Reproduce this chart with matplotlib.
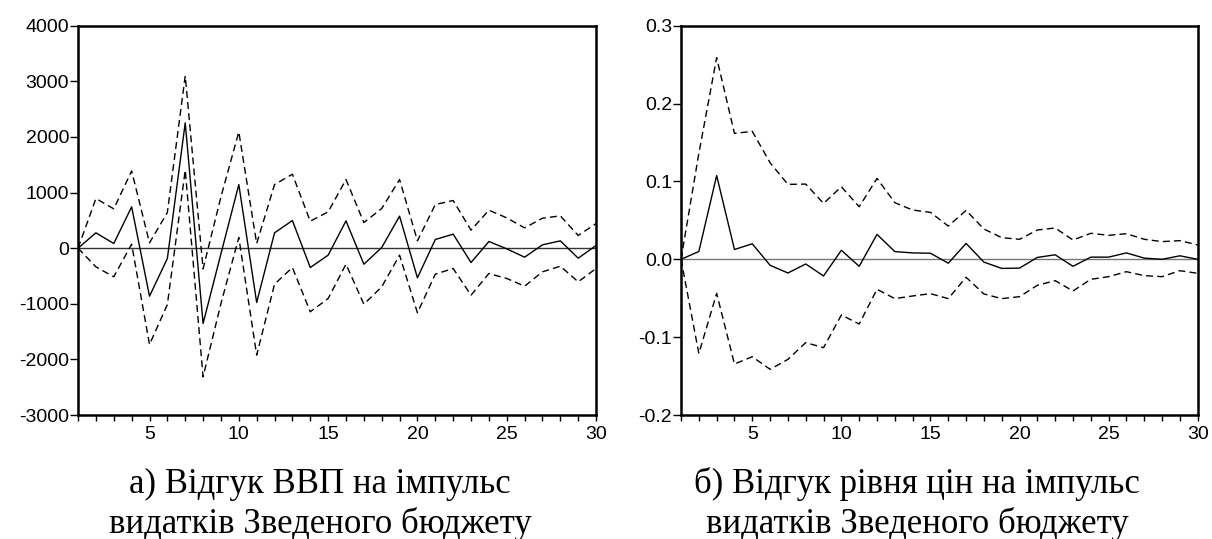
import matplotlib
matplotlib.use("Agg")
import matplotlib.pyplot as plt
from matplotlib.ticker import MultipleLocator

periods = list(range(1, 31))

# a) GDP response
gdp_resp = [0, 276, 84, 743, -863, -186, 2253, -1354, -100, 1144,
            -977, 276, 497, -348, -126, 491, -288, 12, 575, -533,
            156, 252, -258, 120, -12, -162, 60, 132, -180, 48]
gdp_upper = [0, 893, 707, 1390, 96, 641, 3098, -371, 923, 2091,
             84, 1144, 1330, 485, 653, 1234, 461, 713, 1234, 132,
             785, 857, 324, 683, 545, 365, 539, 581, 228, 443]
gdp_lower = [0, -336, -515, 72, -1732, -1013, 1402, -2313, -995, 192,
             -1923, -647, -348, -1144, -905, -288, -1007, -695, -126, -1162,
             -467, -365, -845, -455, -545, -683, -425, -324, -605, -365]

# b) price level response
price_resp = [0, 0.010, 0.1075, 0.0126, 0.0199, -0.0077, -0.0176, -0.006, -0.0214, 0.0116,
              -0.009, 0.032, 0.0099, 0.0082, 0.0078, -0.005, 0.0204, -0.0036, -0.0117, -0.0113,
              0.0024, 0.0058, -0.009, 0.0028, 0.0028, 0.0082, 0.0015, 0.0, 0.0045, 0.0]
price_upper = [0, 0.136, 0.259, 0.1617, 0.1643, 0.124, 0.0962, 0.0966, 0.0718, 0.0932,
               0.0675, 0.1039, 0.0727, 0.0633, 0.0603, 0.0427, 0.0628, 0.0389, 0.0278, 0.0257,
               0.0376, 0.0402, 0.0248, 0.0334, 0.0308, 0.0329, 0.0257, 0.0227, 0.024, 0.0184]
price_lower = [0, -0.121, -0.0438, -0.1345, -0.1251, -0.1413, -0.1285, -0.107, -0.1135, -0.0715,
               -0.0831, -0.0385, -0.0505, -0.0471, -0.0441, -0.0505, -0.0231, -0.0445, -0.0505, -0.048,
               -0.0334, -0.0274, -0.0407, -0.0257, -0.0223, -0.0159, -0.021, -0.0223, -0.0146, -0.018]

caption_a = ["а) Відгук ВВП на імпульс", "видатків Зведеного бюджету"]
caption_b = ["б) Відгук рівня цін на імпульс", "видатків Зведеного бюджету"]

plt.rcParams["font.family"] = ["Liberation Sans", "DejaVu Sans"]

fig = plt.figure(figsize=(12.12, 5.39), dpi=100)
ax_a = fig.add_axes([0.0644, 0.230, 0.4274, 0.7223])
ax_b = fig.add_axes([0.5619, 0.230, 0.4263, 0.7223])


def draw_panel(ax, resp, upper, lower, ylim, ystep, yfmt, zero_color):
    ax.axhline(0, color=zero_color, linewidth=1.0, zorder=1)
    ax.plot(periods, resp, color="black", linewidth=1.0, zorder=3)
    ax.plot(periods, upper, color="black", linewidth=1.0, linestyle=(0, (5, 3)), zorder=3)
    ax.plot(periods, lower, color="black", linewidth=1.0, linestyle=(0, (5, 3)), zorder=3)
    ax.set_xlim(1, 30)
    ax.set_ylim(*ylim)
    ax.xaxis.set_major_locator(MultipleLocator(5))
    ax.xaxis.set_minor_locator(MultipleLocator(1))
    ax.yaxis.set_major_locator(MultipleLocator(ystep))
    ax.yaxis.set_major_formatter(plt.FuncFormatter(yfmt))
    ax.tick_params(axis="x", which="both", direction="out", length=4.5, width=1.0,
                   labelsize=14, pad=3.5, color="black")
    ax.tick_params(axis="y", which="major", direction="out", length=6, width=1.0,
                   labelsize=14, pad=0.5, color="black")
    for side in ax.spines.values():
        side.set_linewidth(1.8)
        side.set_color("black")


draw_panel(ax_a, gdp_resp, gdp_upper, gdp_lower, (-3000, 4000), 1000,
           lambda v, _: f"{v:.0f}", "#333333")
draw_panel(ax_b, price_resp, price_upper, price_lower, (-0.2, 0.3), 0.1,
           lambda v, _: f"{v:.1f}", "#777777")

for x, lines in zip([320 / 1212, 917 / 1212], [caption_a, caption_b]):
    for y_px, line in zip([493, 533], lines):
        fig.text(x, 1 - y_px / 539, line, ha="center", va="baseline", fontsize=25,
                 family=["Liberation Serif", "DejaVu Serif"])

fig.savefig("out.png", dpi=100)
